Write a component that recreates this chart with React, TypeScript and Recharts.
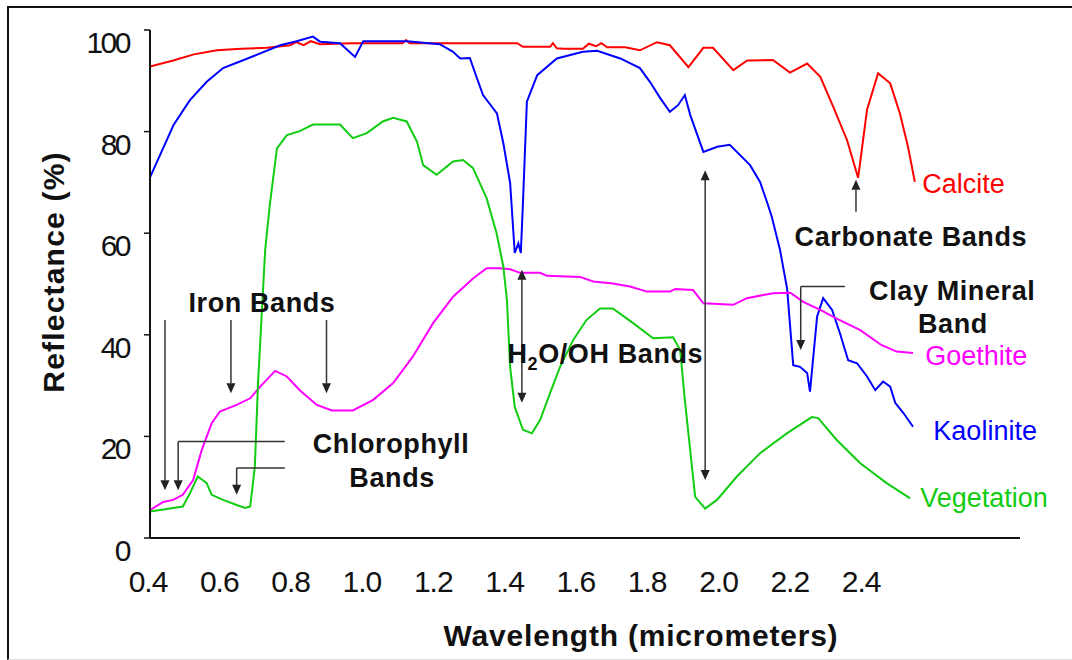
import React from 'react';
import { LineChart, Line, XAxis, YAxis, ReferenceLine, ReferenceDot } from 'recharts';

// wavelength (micrometers) and reflectance (%)
const calciteWl = [0.4, 0.465, 0.523, 0.588, 0.656, 0.728, 0.793, 0.81, 0.831, 0.851, 0.877, 0.964, 1.108, 1.118, 1.128, 1.272, 1.43, 1.446, 1.522, 1.53, 1.541, 1.559, 1.614, 1.631, 1.651, 1.666, 1.682, 1.733, 1.774, 1.822, 1.858, 1.91, 1.952, 1.979, 2.036, 2.075, 2.147, 2.195, 2.243, 2.28, 2.316, 2.355, 2.386, 2.411, 2.442, 2.476, 2.503, 2.526, 2.545];
const calciteRefl = [92.8, 94, 95.2, 96, 96.3, 96.5, 97, 97.6, 97, 97.8, 97.2, 97.4, 97.4, 98, 97.4, 97.4, 97.4, 96.7, 96.7, 97.4, 96.4, 96.3, 96.3, 97.3, 96.8, 97.4, 96.6, 96.6, 96, 97.6, 97, 92.7, 96.5, 96.5, 92.1, 94, 94.1, 91.6, 93.4, 90.8, 84.9, 78.3, 70.9, 84.3, 91.5, 89.5, 83.6, 77, 70.1];

const kaoliniteWl = [0.4, 0.466, 0.512, 0.559, 0.605, 0.652, 0.699, 0.765, 0.811, 0.857, 0.877, 0.933, 0.975, 0.998, 1.121, 1.213, 1.25, 1.27, 1.297, 1.317, 1.334, 1.362, 1.373, 1.391, 1.41, 1.423, 1.433, 1.44, 1.446, 1.457, 1.486, 1.541, 1.614, 1.654, 1.719, 1.774, 1.802, 1.831, 1.858, 1.881, 1.9, 1.915, 1.952, 1.991, 2.026, 2.083, 2.111, 2.133, 2.144, 2.167, 2.187, 2.204, 2.223, 2.243, 2.251, 2.271, 2.288, 2.313, 2.335, 2.358, 2.383, 2.411, 2.434, 2.456, 2.476, 2.49, 2.513, 2.54];
const kaoliniteRefl = [71, 81.3, 86.2, 89.8, 92.5, 93.8, 95.1, 97, 97.8, 98.7, 97.7, 97.4, 94.7, 97.8, 97.8, 97.2, 95.7, 94.4, 94.5, 90.5, 87.2, 84.6, 83.6, 77.7, 69.9, 56.1, 58, 56.1, 66, 85.9, 91.1, 94.4, 95.7, 95.9, 94.4, 92.5, 89.8, 86.6, 83.9, 85.2, 87.2, 83.3, 76, 77, 77.4, 73.4, 70.1, 65.6, 63.2, 56.7, 49, 34, 33.7, 32.5, 28.8, 43.6, 47.2, 44.9, 40.3, 35, 34.4, 31.8, 29.1, 30.8, 29.8, 26.6, 24.6, 21.9];

const goethiteWl = [0.4, 0.437, 0.465, 0.492, 0.521, 0.545, 0.573, 0.596, 0.643, 0.681, 0.709, 0.751, 0.784, 0.82, 0.868, 0.91, 0.969, 1.026, 1.082, 1.137, 1.194, 1.25, 1.306, 1.344, 1.381, 1.41, 1.438, 1.494, 1.513, 1.606, 1.643, 1.698, 1.746, 1.794, 1.858, 1.873, 1.923, 1.952, 2.036, 2.074, 2.147, 2.196, 2.232, 2.28, 2.326, 2.392, 2.451, 2.494, 2.54];
const goethiteRefl = [5.5, 7.1, 7.5, 8.5, 11.4, 17.3, 22.6, 24.9, 26.2, 27.5, 29.8, 32.9, 31.8, 29.1, 26.2, 25.1, 25.1, 27.2, 30.5, 35.7, 42.3, 47.5, 51.1, 53.1, 53.1, 52.9, 52.2, 52.2, 51.6, 51.4, 50.5, 50.1, 49.5, 48.5, 48.5, 49, 48.8, 46.2, 45.9, 47.2, 48.2, 48.3, 46.5, 44.9, 43.2, 40.9, 38, 36.7, 36.4];

const vegetationWl = [0.4, 0.465, 0.492, 0.512, 0.534, 0.559, 0.573, 0.605, 0.643, 0.667, 0.681, 0.694, 0.703, 0.713, 0.723, 0.736, 0.756, 0.784, 0.82, 0.857, 0.933, 0.969, 1.008, 1.053, 1.082, 1.12, 1.149, 1.166, 1.204, 1.25, 1.278, 1.306, 1.344, 1.372, 1.391, 1.401, 1.41, 1.423, 1.446, 1.471, 1.494, 1.522, 1.55, 1.587, 1.624, 1.662, 1.698, 1.755, 1.811, 1.867, 1.887, 1.9, 1.915, 1.929, 1.957, 1.99, 2.046, 2.111, 2.186, 2.256, 2.274, 2.326, 2.392, 2.466, 2.532];
const vegetationRefl = [5.2, 5.9, 6.2, 8.8, 12.1, 10.8, 8.5, 7.5, 6.5, 5.9, 6.2, 14, 30.5, 43.6, 56.7, 65.6, 76.7, 79.3, 80.1, 81.4, 81.4, 78.7, 79.7, 82, 82.7, 82, 78, 73.4, 71.5, 74.1, 74.4, 72.8, 66.9, 60, 53.4, 46.9, 33.7, 25.8, 21.3, 20.6, 23.2, 28.5, 33.7, 39, 42.9, 45.2, 45.2, 42.3, 39.3, 39.5, 37, 27.2, 17.3, 8.1, 5.8, 7.5, 12.1, 16.7, 20.6, 23.8, 23.6, 19.3, 14.7, 10.8, 7.8];

const xTicks = [0.4, 0.6, 0.8, 1.0, 1.2, 1.4, 1.6, 1.8, 2.0, 2.2, 2.4];
const yTicks = [0, 20, 40, 60, 80, 100];

const toPoints = (wl: number[], refl: number[]) => wl.map((x, i) => ({ x, y: refl[i] }));

const series = [
  { name: 'Calcite', color: '#ff0000', data: toPoints(calciteWl, calciteRefl) },
  { name: 'Kaolinite', color: '#0000ff', data: toPoints(kaoliniteWl, kaoliniteRefl) },
  { name: 'Goethite', color: '#ff00ff', data: toPoints(goethiteWl, goethiteRefl) },
  { name: 'Vegetation', color: '#11cc11', data: toPoints(vegetationWl, vegetationRefl) },
];

// annotation arrows: [x1, y1, x2, y2] in data units
const arrowLines = [
  [2.38, 64.2, 2.38, 68.5],
  [2.349, 49.5, 2.225, 49.5],
  [2.225, 49.5, 2.225, 39],
  [1.443, 51, 1.443, 28.5],
  [1.957, 70.5, 1.957, 13.3],
  [0.442, 42.9, 0.442, 11.3],
  [0.627, 42.9, 0.627, 30.4],
  [0.895, 42.9, 0.895, 30.4],
  [0.778, 19.0, 0.479, 19.0],
  [0.479, 19.0, 0.479, 11.3],
  [0.778, 13.8, 0.643, 13.8],
  [0.643, 13.8, 0.643, 10.4],
];

const arrowHeads = [
  { x: 2.38, y: 70.5, dir: 'up' },
  { x: 2.225, y: 37, dir: 'down' },
  { x: 1.443, y: 52.8, dir: 'up' },
  { x: 1.443, y: 26.6, dir: 'down' },
  { x: 1.957, y: 72.4, dir: 'up' },
  { x: 1.957, y: 11.4, dir: 'down' },
  { x: 0.442, y: 9.4, dir: 'down' },
  { x: 0.627, y: 28.5, dir: 'down' },
  { x: 0.895, y: 28.5, dir: 'down' },
  { x: 0.479, y: 9.4, dir: 'down' },
  { x: 0.643, y: 8.5, dir: 'down' },
];

const notes = [
  { x: 2.566, y: 69.9, text: 'Calcite', color: '#ff0000', bold: false, anchor: 'start' },
  { x: 2.574, y: 36.0, text: 'Goethite', color: '#ff00ff', bold: false, anchor: 'start' },
  { x: 2.597, y: 21.3, text: 'Kaolinite', color: '#0000ff', bold: false, anchor: 'start' },
  { x: 2.56, y: 8.1, text: 'Vegetation', color: '#11cc11', bold: false, anchor: 'start' },
  { x: 2.534, y: 59.4, text: 'Carbonate Bands', color: '#111', bold: true, anchor: 'middle' },
  { x: 2.65, y: 48.8, text: 'Clay Mineral', color: '#111', bold: true, anchor: 'middle' },
  { x: 2.652, y: 42.3, text: 'Band', color: '#111', bold: true, anchor: 'middle' },
  { x: 0.714, y: 46.5, text: 'Iron Bands', color: '#111', bold: true, anchor: 'middle' },
  { x: 1.076, y: 18.7, text: 'Chlorophyll', color: '#111', bold: true, anchor: 'middle' },
  { x: 1.079, y: 12.0, text: 'Bands', color: '#111', bold: true, anchor: 'middle' },
];

const font = 'Liberation Sans, Arial, sans-serif';

const headShape = (dir: string) => (props: any) => {
  const { cx, cy } = props;
  const s = dir === 'down' ? -1 : 1;
  return <path d={`M${cx},${cy} L${cx - 4.5},${cy + s * 10} L${cx + 4.5},${cy + s * 10} Z`} fill="#222" />;
};

const noteShape = (n: any) => (props: any) => (
  <text
    x={props.cx}
    y={props.cy}
    dy="0.36em"
    textAnchor={n.anchor}
    fill={n.color}
    fontFamily={font}
    fontSize={27}
    fontWeight={n.bold ? 700 : 400}
    letterSpacing={n.bold ? 0.6 : 0}
  >
    {n.text}
  </text>
);

const waterShape = (props: any) => (
  <text x={props.cx} y={props.cy} dy="0.36em" textAnchor="middle" fill="#111" fontFamily={font} fontSize={27} fontWeight={700} letterSpacing={0.6}>
    <tspan>H</tspan>
    <tspan fontSize={18} dy={7}>2</tspan>
    <tspan dy={-7}>O/OH Bands</tspan>
  </text>
);

const XTick = (props: any) => (
  <text x={props.x - 2} y={592} textAnchor="middle" fill="#111" fontFamily={font} fontSize={30} letterSpacing={-1}>
    {props.payload.value.toFixed(1)}
  </text>
);

const YTick = (props: any) => (
  <text x={129} y={props.y + 23} textAnchor="end" fill="#111" fontFamily={font} fontSize={30} letterSpacing={-2.5}>
    {props.payload.value}
  </text>
);

export default function App() {
  return (
    <div style={{ position: 'absolute', left: 0, top: 0, width: 1072, height: 660, background: '#fff' }}>
      <div style={{ position: 'absolute', left: 7, top: 6, right: 0, height: 651, borderTop: '2px solid #111', borderLeft: '2px solid #111', borderBottom: '1px solid #ddd' }} />
      <LineChart width={1072} height={660} margin={{ top: 30, right: 52, bottom: 62, left: 90 }} style={{ position: 'absolute', left: 0, top: 0 }}>
        <XAxis
          dataKey="x"
          type="number"
          domain={[0.4, 2.84]}
          ticks={xTicks}
          allowDataOverflow={true}
          height={60}
          tickLine={false}
          axisLine={{ stroke: '#111', strokeWidth: 2 }}
          tick={<XTick />}
          interval={0}
        />
        <YAxis
          type="number"
          domain={[0, 100]}
          ticks={yTicks}
          width={60}
          tickSize={6}
          tickLine={{ stroke: '#111', strokeWidth: 1.5 }}
          axisLine={{ stroke: '#111', strokeWidth: 2 }}
          tick={<YTick />}
          interval={0}
        />
        {series.map((s) => (
          <Line
            key={s.name}
            data={s.data}
            dataKey="y"
            name={s.name}
            type="linear"
            stroke={s.color}
            strokeWidth={2}
            dot={false}
            isAnimationActive={false}
          />
        ))}
        {arrowLines.map((a, i) => (
          <ReferenceLine
            key={'a' + i}
            segment={[{ x: a[0], y: a[1] }, { x: a[2], y: a[3] }]}
            stroke="#333"
            strokeWidth={1.5}
            ifOverflow="visible"
          />
        ))}
        {arrowHeads.map((h, i) => (
          <ReferenceDot key={'h' + i} x={h.x} y={h.y} r={0} ifOverflow="visible" shape={headShape(h.dir)} />
        ))}
        {notes.map((n, i) => (
          <ReferenceDot key={'n' + i} x={n.x} y={n.y} r={0} ifOverflow="visible" shape={noteShape(n)} />
        ))}
        <ReferenceDot x={1.677} y={36.4} r={0} ifOverflow="visible" shape={waterShape} />
      </LineChart>
      <svg width={1072} height={660} style={{ position: 'absolute', left: 0, top: 0, pointerEvents: 'none' }}>
        <text x={641} y={646} textAnchor="middle" fill="#111" fontFamily={font} fontSize={30} fontWeight={700} letterSpacing={0.8}>
          Wavelength (micrometers)
        </text>
        <text x={0} y={0} transform="translate(64,272) rotate(-90)" textAnchor="middle" fill="#111" fontFamily={font} fontSize={30} fontWeight={700} letterSpacing={1.2}>
          Reflectance (%)
        </text>
      </svg>
    </div>
  );
}
